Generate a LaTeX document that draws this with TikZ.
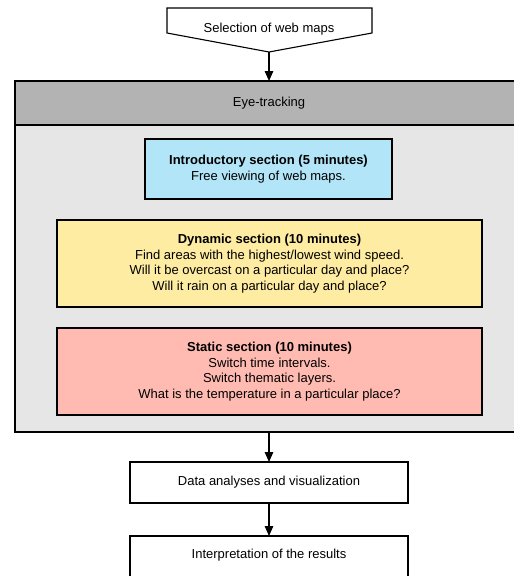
\documentclass[tikz,border=0pt]{standalone}
\usepackage{fontspec}
\setmainfont{Liberation Sans}
\usetikzlibrary{arrows.meta}
\definecolor{headgray}{RGB}{179,179,179}
\definecolor{bodygray}{RGB}{230,230,230}
\definecolor{introblue}{RGB}{179,229,248}
\definecolor{dynyellow}{RGB}{255,236,163}
\definecolor{statpink}{RGB}{255,187,177}
\begin{document}
\begin{tikzpicture}[x=1pt,y=-1pt,
  every node/.style={font=\fontsize{13}{15.6}\selectfont, inner sep=0pt, outer sep=0pt},
  box/.style={draw=black, line width=1.5pt, rectangle, align=center},
  thinbox/.style={draw=black, line width=1.1pt, rectangle, align=center, fill=white},
  arr/.style={-{Triangle[length=10pt,width=8.5pt]}, line width=1.4pt}]
\useasboundingbox (0,0) rectangle (514,576);
\clip (0,0) rectangle (514,576);
% selection pentagon
\draw[line width=1.1pt, fill=white] (167,8) -- (372,8) -- (372,33) -- (269,52) -- (167,33) -- cycle;
\node (sel) at (269,29) {Selection of web maps};
\coordinate (selTip) at (269,52);
% eye-tracking big box
\node[box, fill=bodygray, minimum width=508pt, minimum height=351pt, anchor=north] (eye) at (269,81) {};
\node[box, fill=headgray, minimum width=508pt, minimum height=44pt, anchor=north] (eyehead) at (269,81) {Eye-tracking};
% sections
\node[box, fill=introblue, minimum width=247pt, minimum height=60pt] (intro) at (268.5,169)
  {\textbf{Introductory section (5 minutes)}\\Free viewing of web maps.};
\node[box, fill=dynyellow, minimum width=425pt, minimum height=87pt] (dyn) at (269.5,263.5)
  {\textbf{Dynamic section (10 minutes)}\\Find areas with the highest/lowest wind speed.\\Will it be overcast on a particular day and place?\\Will it rain on a particular day and place?};
\node[box, fill=statpink, minimum width=425pt, minimum height=87pt] (stat) at (269.5,371.5)
  {\textbf{Static section (10 minutes)}\\Switch time intervals.\\Switch thematic layers.\\What is the temperature in a particular place?};
% bottom boxes
\node[thinbox, minimum width=278pt, minimum height=41pt] (data) at (269,482.5) {Data analyses and visualization};
\node[thinbox, minimum width=278pt, minimum height=42pt, anchor=north] (interp) at (269,536) {};
\node (interptext) at (269,555) {Interpretation of the results};
% arrows
\draw[arr] (selTip) -- (eye.north);
\draw[arr] (eye.south) -- (data.north);
\draw[arr] (data.south) -- (interp.north);
\end{tikzpicture}
\end{document}
